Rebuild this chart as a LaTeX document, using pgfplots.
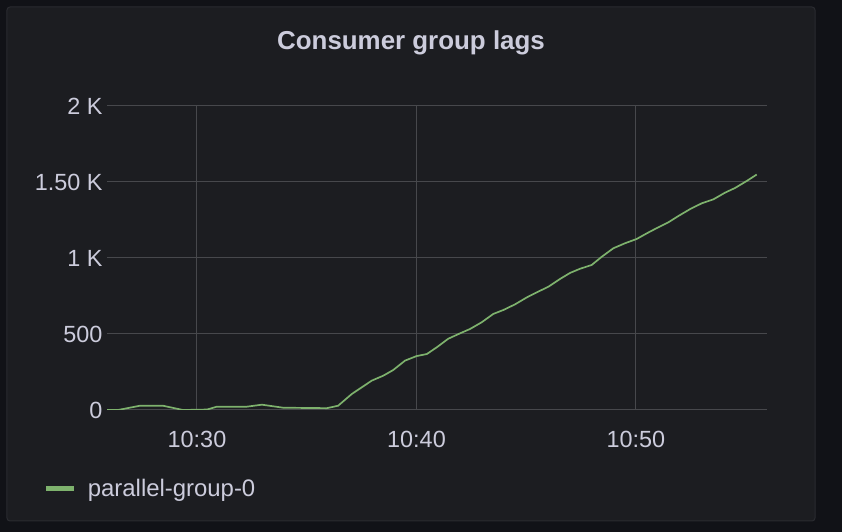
\documentclass[border=0pt]{standalone}
\usepackage{fontspec}
\setmainfont{Liberation Sans}
\usepackage{pgfplots}
\pgfplotsset{compat=1.18}
\usetikzlibrary{backgrounds}
\definecolor{outerbg}{HTML}{111217}
\definecolor{panelbg}{HTML}{1C1D21}
\definecolor{panelborder}{HTML}{2A2B30}
\definecolor{txt}{HTML}{CCCCDC}
\definecolor{gridc}{HTML}{47484C}
\definecolor{lineg}{HTML}{7EB26D}
\begin{document}
\begin{tikzpicture}
\begin{axis}[
  name=ax,
  scale only axis, width=660bp, height=304bp,
  xmin=25.9, xmax=55.97, ymin=0, ymax=2000,
  axis line style={draw=none},
  major tick style={draw=none},
  grid=major,
  grid style={gridc, line width=1bp},
  xtick={30,40,50},
  xticklabels={10:30,10:40,10:50},
  ytick={0,500,1000,1500,2000},
  yticklabels={0,500,1 K,1.50 K,2 K},
  tick label style={txt, font=\fontsize{23.5}{27}\selectfont},
  xticklabel style={yshift=-18bp},
  yticklabel style={xshift=-1bp},
  legend style={at={(-0.101,-0.257)}, anchor=west, draw=none, fill=none,
     text=txt, font=\fontsize{24}{28}\selectfont},
  legend image code/.code={\draw[line width=5bp, #1] (0bp,0bp) -- (28bp,0bp); \path (39bp,0bp);},
  legend cell align=left,
]
\addplot[lineg, line width=1.7bp] coordinates {
(25.90,0) (26.40,0) (27.40,28) (28.45,28) (29.36,0) (30.46,3) (30.91,22) (32.28,22) (32.96,35) (33.92,15) (35.92,12) (36.43,28) (37.05,105) (37.96,193) (38.49,226) (38.94,263) (39.48,325) (40.01,355) (40.47,368) (40.92,412) (41.45,469) (41.98,504) (42.44,533) (42.97,577) (43.50,632) (43.96,658) (44.49,695) (45.03,741) (45.48,774) (46.01,811) (46.54,862) (47.00,902) (47.45,929) (47.98,954) (48.44,1008) (48.97,1064) (49.50,1097) (50.03,1125) (50.49,1162) (50.95,1197) (51.48,1235) (51.93,1276) (52.47,1322) (53.00,1360) (53.53,1386) (54.06,1430) (54.52,1461) (55.05,1507) (55.50,1549)
};
\addlegendentry{parallel-group-0}
\end{axis}
\begin{scope}[on background layer, shift={(ax.south west)}, xshift=-107bp, yshift=-122bp, x=1bp, y=1bp]
\fill[outerbg] (0,0) rectangle (842,532);
\filldraw[fill=panelbg, draw=panelborder, line width=1bp, rounded corners=3bp] (7,11) rectangle (815,525);
\end{scope}
\begin{scope}[shift={(ax.south west)}, xshift=-107bp, yshift=-122bp, x=1bp, y=1bp]
\node[txt, font=\fontsize{26}{30}\selectfont\bfseries] at (411,489) {Consumer group lags};
\end{scope}
\end{tikzpicture}
\end{document}
